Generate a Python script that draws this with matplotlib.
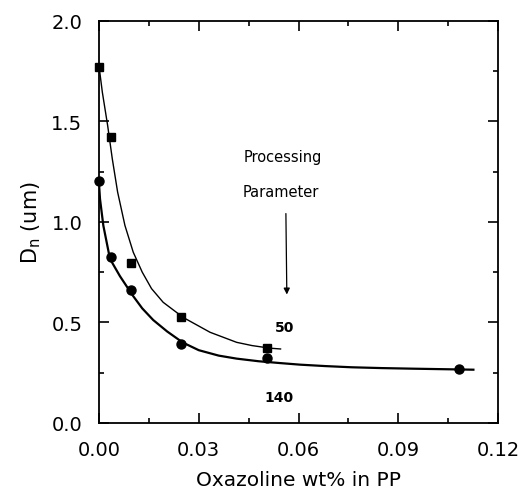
import numpy as np
import matplotlib.pyplot as plt
from matplotlib.ticker import MultipleLocator

# measured points
x_sq = [0.0, 0.0036, 0.0096, 0.0247, 0.0504]
y_sq = [1.77, 1.424, 0.794, 0.526, 0.372]
x_ci = [0.0, 0.0036, 0.0096, 0.0247, 0.0504, 0.1083]
y_ci = [1.202, 0.824, 0.663, 0.393, 0.322, 0.269]

# fitted curves
cx_sq = [0.0, 0.0010, 0.0026, 0.0040, 0.0056, 0.0078, 0.0103, 0.0130,
         0.0158, 0.0193, 0.0254, 0.0334, 0.0414, 0.0460, 0.0514, 0.0546]
cy_sq = [1.775, 1.645, 1.479, 1.313, 1.148, 0.982, 0.849, 0.750,
         0.668, 0.600, 0.524, 0.451, 0.401, 0.385, 0.372, 0.368]
cx_ci = [0.0, 0.0003, 0.0013, 0.0033, 0.0063, 0.0101, 0.0130, 0.0163, 0.0205,
         0.0252, 0.0300, 0.0360, 0.0414, 0.0480, 0.0544, 0.0605, 0.0680,
         0.0760, 0.0850, 0.0945, 0.1126]
cy_ci = [1.19, 1.114, 0.982, 0.816, 0.730, 0.635, 0.570, 0.512, 0.455,
         0.400, 0.362, 0.335, 0.320, 0.307, 0.298, 0.290, 0.283,
         0.277, 0.273, 0.270, 0.265]

fig = plt.figure(figsize=(5.28, 4.89), dpi=100)
ax = fig.add_axes([99/528, 1-424/489, (498-99)/528, (424-21.7)/489])

ax.plot(cx_sq, cy_sq, color='black', lw=1.0)
ax.plot(cx_ci, cy_ci, color='black', lw=1.6)
ax.plot(x_sq, y_sq, 's', color='black', ms=5.5, clip_on=False)
ax.plot(x_ci, y_ci, 'o', color='black', ms=6.5, clip_on=False)

ax.text(0.0553, 1.323, 'Processing', ha='center', va='center', fontsize=10.5)
ax.text(0.0547, 1.149, 'Parameter', ha='center', va='center', fontsize=10.5)
ax.annotate('', xy=(0.0565, 0.625), xytext=(0.0562, 1.055),
            arrowprops=dict(arrowstyle='-|>', color='black', lw=0.9,
                            mutation_scale=9))
ax.text(0.0557, 0.479, '50', ha='center', va='center', fontsize=10,
        fontweight='bold')
ax.text(0.0542, 0.128, '140', ha='center', va='center', fontsize=10,
        fontweight='bold')

ax.set_xlim(0, 0.12)
ax.set_ylim(0, 2.0)
ax.xaxis.set_major_locator(MultipleLocator(0.03))
ax.xaxis.set_minor_locator(MultipleLocator(0.015))
ax.yaxis.set_major_locator(MultipleLocator(0.5))
ax.yaxis.set_minor_locator(MultipleLocator(0.25))
ax.set_xticklabels([f'{v:.2f}' for v in ax.get_xticks()])
ax.set_yticklabels([f'{v:.1f}' for v in ax.get_yticks()])
ax.tick_params(which='both', direction='in', top=True, right=True,
               labelsize=14, width=1.2)
ax.tick_params(which='major', length=7, pad=12)
ax.tick_params(which='minor', length=3.5)
for s in ax.spines.values():
    s.set_linewidth(1.3)

ax.set_xlabel('Oxazoline wt% in PP', fontsize=14.5, labelpad=8)
ax.set_ylabel('D$_{\\rm n}$ (um)', fontsize=15, labelpad=6)

fig.savefig('out.png', dpi=100)
